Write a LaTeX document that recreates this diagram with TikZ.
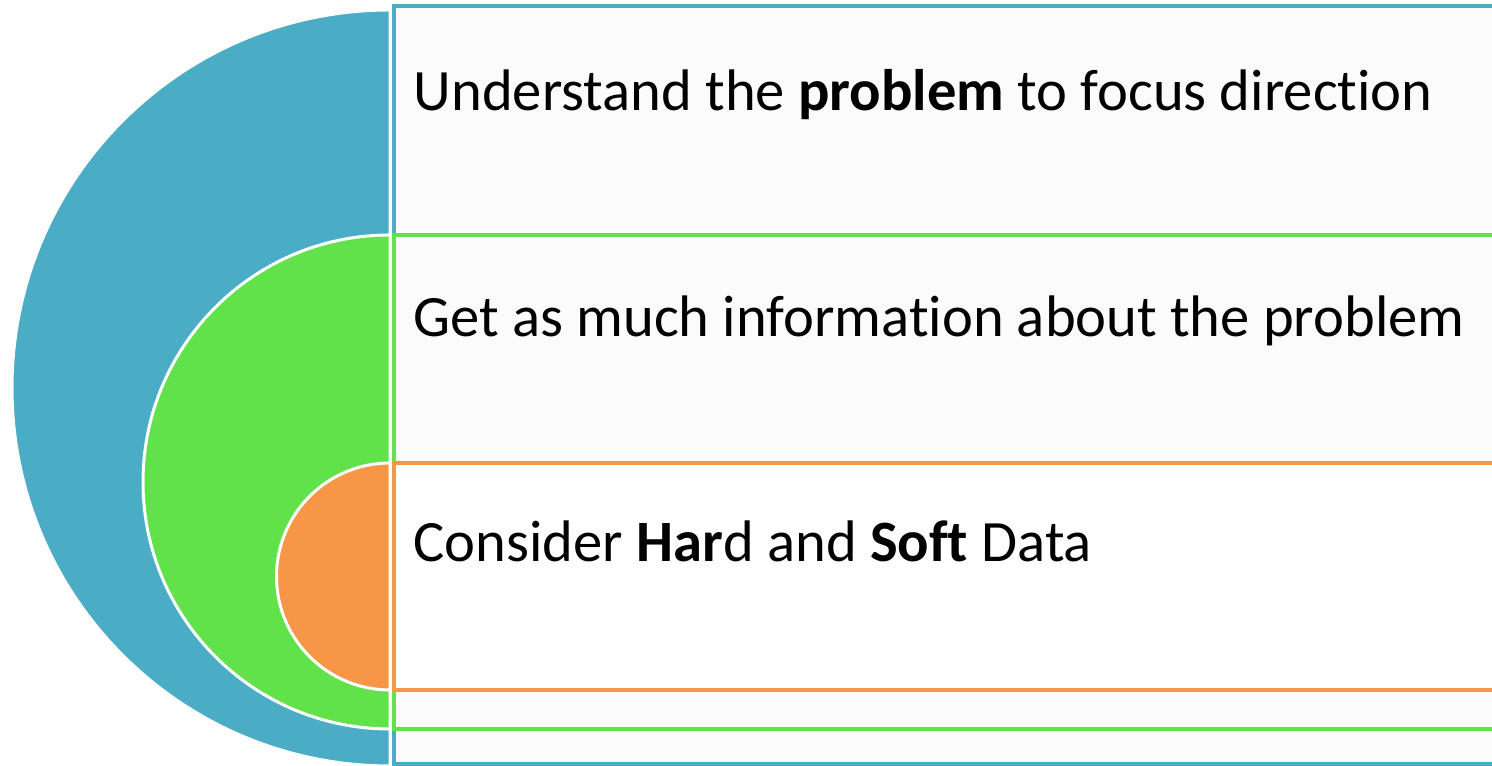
\documentclass[tikz,border=0pt]{standalone}
\usepackage{fontspec}
\setmainfont[Ligatures=NoCommon]{Carlito}
\usepackage{tikz}
\definecolor{targetblue}{HTML}{4BACC6}
\definecolor{targetgreen}{HTML}{62E24A}
\definecolor{targetorange}{HTML}{F79646}
\definecolor{targetpaper}{HTML}{FBFBFB}
\tikzset{
  target bar/.style={fill=targetpaper, line width=0.04cm},
  target disk/.style={draw=white, line width=0.03cm},
  target text/.style={anchor=base west, inner sep=0pt, font=\fontsize{16.67}{20}\selectfont}
}
\begin{document}
\begin{tikzpicture}
\clip (0,0) rectangle (14.92,7.66);
\useasboundingbox (0,0) rectangle (14.92,7.66);
\draw[target bar, draw=targetblue] (3.94,7.6) rectangle (15.2,0.02);
\fill[target disk, fill=targetblue] (3.90,7.56) arc[start angle=90, end angle=270, radius=3.78] -- cycle;
\draw[target bar, draw=targetgreen] (3.94,5.31) rectangle (15.2,0.37);
\fill[target disk, fill=targetgreen] (3.90,5.31) arc[start angle=90, end angle=270, radius=2.47] -- cycle;
\draw[target bar, draw=targetorange, fill=white] (3.94,3.03) rectangle (15.2,0.76);
\fill[target disk, fill=targetorange] (3.90,3.03) arc[start angle=90, end angle=270, radius=1.135] -- cycle;
\node[target text] (Target problem) at (4.13,6.553) {Understand the \textbf{problem} to focus direction};
\node[target text] (Target information) at (4.13,4.293) {Get as much information about the problem};
\node[target text] (Target data) at (4.13,2.04) {Consider \textbf{Har}d and \textbf{Soft} Data};
\end{tikzpicture}
\end{document}
